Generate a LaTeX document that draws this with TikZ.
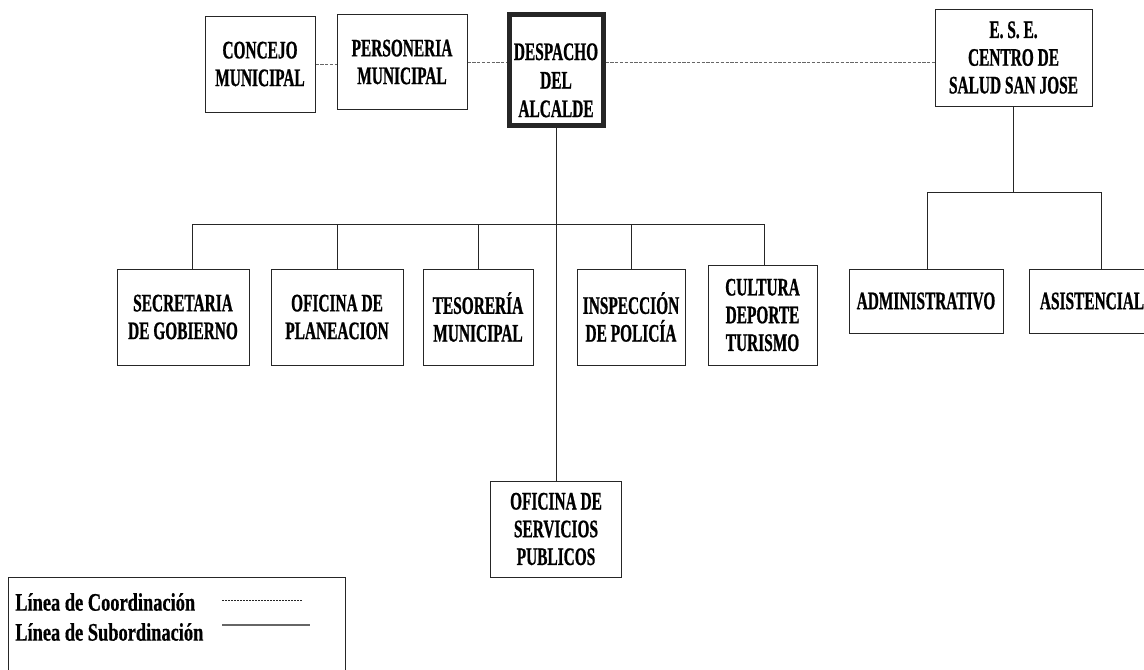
\documentclass[tikz,border=0pt]{standalone}
\usepackage{fontspec}
\usepackage{tikz}
\usetikzlibrary{positioning}
\newfontfamily\orgfont{Liberation Serif}[FakeStretch=0.61,FakeBold=0.8]
\newfontfamily\legfont{Liberation Serif}[FakeStretch=0.73,FakeBold=0.6]

\begin{document}
\begin{tikzpicture}[x=0.75pt,y=-0.75pt,on grid,
   unit/.style={draw=black!85,line width=0.75pt,inner sep=0pt,align=center,
      font=\orgfont\bfseries\fontsize{18.9}{20.8}\selectfont},
   coord/.style={draw=black!60,line width=0.75pt,dash pattern=on 2.4pt off 1.2pt},
   sub/.style={draw=black!85,line width=0.75pt}]
   \useasboundingbox (0,0) rectangle (1144,669);
   \clip (0,0) rectangle (1144,669);
   % top row
   \node[unit,line width=3.75pt,minimum width=70.5pt,minimum height=83.25pt,
      font=\orgfont\bfseries\fontsize{18.9}{21.4}\selectfont] (despacho) at (556,70) {\rule{0pt}{28pt}DESPACHO\\DEL\\ALCALDE};
   \node[unit,minimum width=97.5pt,minimum height=71.25pt] (personeria) at (402,62) {PERSONERIA\\MUNICIPAL};
   \node[unit,minimum width=82.5pt,minimum height=72pt] (concejo) at (260,64) {CONCEJO\\MUNICIPAL};
   \node[unit,minimum width=117.75pt,minimum height=72.75pt] (ese) at (1013.5,57.5) {E. S. E.\\CENTRO DE\\SALUD SAN JOSE};
   % dependencias
   \node[unit,minimum width=99pt,minimum height=72pt] (secretaria) at (183,317) {SECRETARIA\\DE GOBIERNO};
   \node[unit,minimum width=99pt,minimum height=72pt] (planeacion) [right=115.5pt of secretaria] {OFICINA DE\\PLANEACION};
   \node[unit,minimum width=82.5pt,minimum height=72pt] (tesoreria) [right=105.75pt of planeacion] {TESORERÍA\\MUNICIPAL};
   \node[unit,minimum width=81pt,minimum height=72pt] (inspeccion) [right=114.75pt of tesoreria] {INSPECCIÓN\\DE POLICÍA};
   \node[unit,minimum width=81.75pt,minimum height=75pt] (cultura) at (762.5,315) {CULTURA\\DEPORTE\\TURISMO};
   \node[unit,minimum width=98.25pt,minimum height=72pt] (servicios) [below=344.25pt of despacho] {OFICINA DE\\SERVICIOS\\PUBLICOS};
   \node[unit,minimum width=115.5pt,minimum height=48pt] (administrativo) at (926,301) {ADMINISTRATIVO};
   \node[unit,minimum width=94.5pt,minimum height=48pt] (asistencial) [right=124.5pt of administrativo] {ASISTENCIAL};
   % lineas
   \coordinate (barL) at (192,224);
   \coordinate (barR) at (764,224);
   \coordinate (ebarL) at (927,192);
   \coordinate (ebarR) at (1101,192);
   \draw[coord] (concejo.east) -- (concejo.east -| personeria.west);
   \draw[coord] (personeria.east) -- (personeria.east -| despacho.west);
   \draw[coord] (despacho.east |- personeria.east) -- (ese.west |- personeria.east);
   \draw[sub] (despacho.south) -- (servicios.north);
   \draw[sub] (barL |- secretaria.north) -- (barL) -- (barR) -- (barR |- cultura.north);
   \foreach \n in {planeacion,tesoreria,inspeccion}
      \draw[sub] (\n.north) -- (\n.north |- barL);
   \draw[sub] (ese.south) -- (ese.south |- ebarL);
   \draw[sub] (ebarL |- administrativo.north) -- (ebarL) -- (ebarR) -- (ebarR |- asistencial.north);
   % leyenda
   \draw[sub] (8,700) -- (8,577) -- (345,577) -- (345,700);
   \node[anchor=west,inner sep=0pt,font=\legfont\bfseries\fontsize{18.9}{20.8}\selectfont] (coordtxt) at (15,602) {Línea de Coordinación};
   \node[anchor=west,inner sep=0pt,font=\legfont\bfseries\fontsize{18.9}{20.8}\selectfont] (subtxt) at (15,632) {Línea de Subordinación};
   \draw[draw=black!85,line width=0.6pt,dash pattern=on 1.5pt off 0.75pt] (222,600) -- (303,600);
   \draw[draw=black!60,line width=0.9pt] (222,625) -- (310,625);
\end{tikzpicture}
\end{document}
